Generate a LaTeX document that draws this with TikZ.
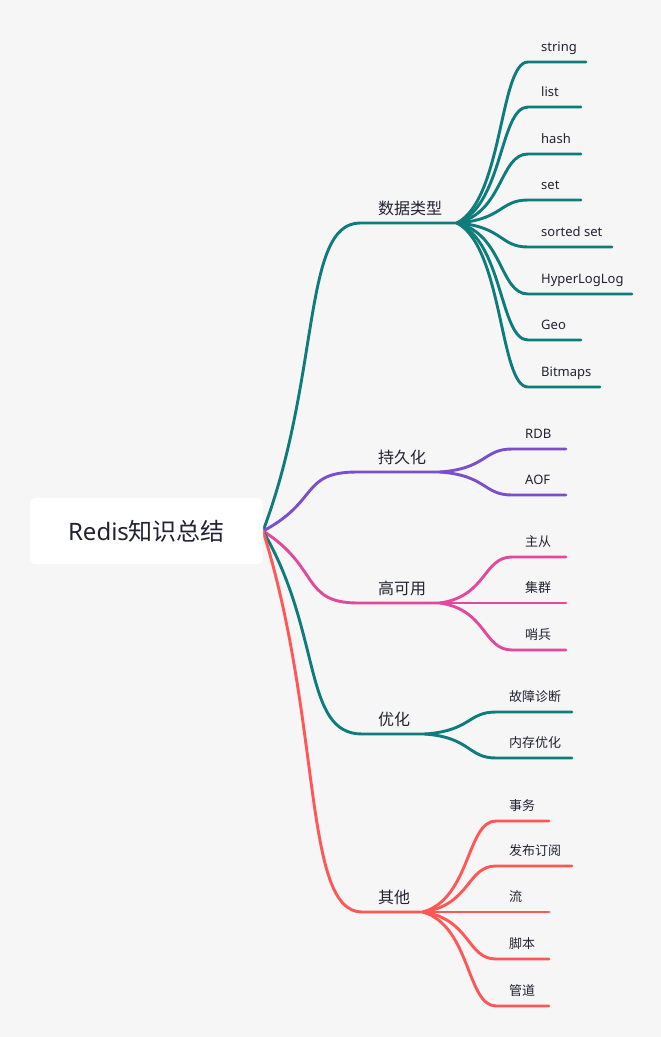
\documentclass[tikz,border=0pt]{standalone}
\usepackage{fontspec}
\setmainfont{Noto Sans CJK SC}
\newfontfamily\latinf{Noto Sans}
\usetikzlibrary{calc}
\definecolor{bg}{HTML}{F6F6F6}
\definecolor{cteal}{HTML}{0E7C7B}
\definecolor{cpurple}{HTML}{7B4FCB}
\definecolor{cpink}{HTML}{E2489B}
\definecolor{cred}{HTML}{FF5656}
\definecolor{ctext}{HTML}{222233}
\begin{document}
\begin{tikzpicture}[x=1pt,y=-1pt,
  rootbox/.style={fill=white, rounded corners=6pt, minimum width=233pt, minimum height=66pt, inner sep=0pt, text=ctext, font=\fontsize{24}{28}\selectfont},
  l1lab/.style={anchor=base west, inner sep=0pt, text=ctext, font=\fontsize{16}{19}\selectfont},
  l2lab/.style={anchor=base west, inner sep=0pt, text=ctext, font=\fontsize{13}{16}\selectfont},
  conn/.style={line width=2.9pt, line cap=round},
  l1curve/.style={to path={let \p1=(\tikztostart), \p2=(\tikztotarget) in .. controls ({\x1+0.6*(\x2-\x1)},{\y1+0.5*(\y2-\y1)}) and ({\x1+0.4*(\x2-\x1)},{\y2}) .. (\tikztotarget)}},
  l2curve/.style={to path={let \p1=(\tikztostart), \p2=(\tikztotarget) in .. controls ({\x1+0.65*(\x2-\x1)},{\y1+0.15*(\y2-\y1)}) and ({\x1+0.6*(\x2-\x1)},{\y2}) .. (\tikztotarget)}}
]
\fill[bg] (0,0) rectangle (661,1037);
\useasboundingbox (0,0) rectangle (661,1037);

% level 1
\coordinate (rootpt) at (263,531);
\coordinate (dA) at (360,223); \coordinate (dB) at (457,223);
\coordinate (pA) at (357,472); \coordinate (pB) at (440,472);
\coordinate (hA) at (358,603); \coordinate (hB) at (440,603);
\coordinate (oA) at (362,734); \coordinate (oB) at (425,734);
\coordinate (qA) at (362,912); \coordinate (qB) at (423,912);

\draw[conn, cteal] (rootpt) to[l1curve] (dA) -- (dB);
\draw[conn, cpurple] (rootpt) to[l1curve] (pA) -- (pB);
\draw[conn, cpink] (rootpt) to[l1curve] (hA) -- (hB);
\draw[conn, cteal] (rootpt) to[l1curve] (oA) -- (oB);
\draw[conn, cred] (rootpt) to[l1curve] (qA) -- (qB);

\node[rootbox] (root) at (146.5,531) {{\latinf Redis}知识总结};

\node[l1lab] (d) at (378,214) {数据类型};
\node[l1lab] (p) at (378,463) {持久化};
\node[l1lab] (h) at (378,594) {高可用};
\node[l1lab] (o) at (378,725) {优化};
\node[l1lab] (q) at (378,903) {其他};

% level 2: 数据类型
\foreach \nm/\yy/\ee/\tx in {d1/62/586/string, d2/107/581/list, d3/154/581/hash, d4/200/581/set, d5/247/612/sorted set, d6/294/632/HyperLogLog, d7/340/581/Geo, d8/387/600/Bitmaps}{
  \node[l2lab] (\nm) at (541,\yy-10.5) {\latinf \tx};
  \coordinate (a\nm) at (528,\yy); \coordinate (b\nm) at (\ee,\yy);
  \draw[conn, cteal] (dB) to[l2curve] (a\nm) -- (b\nm);
}
% 持久化
\foreach \nm/\yy/\ee/\tx in {p1/449/566/RDB, p2/495/566/AOF}{
  \node[l2lab] (\nm) at (525,\yy-10.5) {\latinf \tx};
  \coordinate (a\nm) at (512,\yy); \coordinate (b\nm) at (\ee,\yy);
  \draw[conn, cpurple] (pB) to[l2curve] (a\nm) -- (b\nm);
}
% 高可用
\foreach \nm/\yy/\ee/\tx in {h1/557/566/主从, h2/603/566/集群, h3/650/566/哨兵}{
  \node[l2lab] (\nm) at (525,\yy-10.5) {\tx};
  \coordinate (a\nm) at (512,\yy); \coordinate (b\nm) at (\ee,\yy);
  \draw[conn, cpink] (hB) to[l2curve] (a\nm) -- (b\nm);
}
% 优化
\foreach \nm/\yy/\ee/\tx in {o1/712/572/故障诊断, o2/758/572/内存优化}{
  \node[l2lab] (\nm) at (509,\yy-10.5) {\tx};
  \coordinate (a\nm) at (496,\yy); \coordinate (b\nm) at (\ee,\yy);
  \draw[conn, cteal] (oB) to[l2curve] (a\nm) -- (b\nm);
}
% 其他
\foreach \nm/\yy/\ee/\tx in {q1/821/549/事务, q2/866/572/发布订阅, q3/912/549/流, q4/959/549/脚本, q5/1006/549/管道}{
  \node[l2lab] (\nm) at (509,\yy-10.5) {\tx};
  \coordinate (a\nm) at (496,\yy); \coordinate (b\nm) at (\ee,\yy);
  \draw[conn, cred] (qB) to[l2curve] (a\nm) -- (b\nm);
}
\end{tikzpicture}
\end{document}
